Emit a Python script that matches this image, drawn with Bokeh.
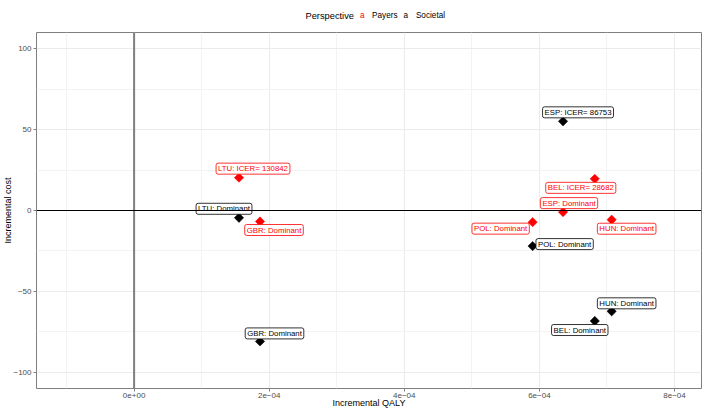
from bokeh.plotting import figure
from bokeh.layouts import column
from bokeh.models import ColumnDataSource, FixedTicker, Span, Range1d
from bokeh.embed import file_html
from bokeh.resources import INLINE
from bokeh.core.properties import value

# ---------------- data ----------------
countries = ["LTU", "GBR", "ESP", "POL", "BEL", "HUN"]
inc_qaly = [1.553e-4, 1.864e-4, 6.35e-4, 5.90e-4, 6.82e-4, 7.07e-4]
cost_payers = [20.3, -6.8, -1.0, -7.2, 19.56, -5.7]
cost_societal = [-4.5, -80.9, 55.1, -22.0, -68.3, -62.3]
icer_payers = [130842, None, None, None, 28682, None]
icer_societal = [None, None, 86753, None, None, None]

x_ticks = [0, 2e-4, 4e-4, 6e-4, 8e-4]
x_tick_labels = ["0e+00", "2e\u221204", "4e\u221204", "6e\u221204", "8e\u221204"]
x_minor = [-1e-4, 1e-4, 3e-4, 5e-4, 7e-4]
y_ticks = [-100, -50, 0, 50, 100]
y_tick_labels = ["\u2212100", "\u221250", "0", "50", "100"]
y_minor = [-75, -25, 25, 75]

legend_title = "Perspective"
legend_items = ["Payers", "Societal"]
legend_colors = ["#ff0000", "black"]

# label nudges (screen px, right / down)
nudge_payers_dx = [14, 14, 6, -32, -14, 15]
nudge_payers_dy = [-9, 8.5, -9, 6.5, 9, 9]
nudge_soc_dx = [-15, 14.5, 15, 32, -15, 15]
nudge_soc_dy = [-9, -8, -9, -2, 9, -8]

FONT = "Liberation Sans"
W = 701
LEG_H = 24


def label_text(c, icer):
    return f"{c}: Dominant" if icer is None else f"{c}: ICER= {icer}"


src_pay = ColumnDataSource(dict(
    x=inc_qaly, y=cost_payers,
    txt=[label_text(c, i) for c, i in zip(countries, icer_payers)],
    dx=nudge_payers_dx, dy=nudge_payers_dy))
src_soc = ColumnDataSource(dict(
    x=inc_qaly, y=cost_societal,
    txt=[label_text(c, i) for c, i in zip(countries, icer_societal)],
    dx=nudge_soc_dx, dy=nudge_soc_dy))

# ---------------- legend strip ----------------
leg = figure(width=W, height=LEG_H, output_backend="svg", toolbar_location=None,
             x_range=Range1d(0, W), y_range=Range1d(0, LEG_H),
             min_border=0, min_border_left=0, min_border_right=0,
             min_border_top=0, min_border_bottom=0)
leg.axis.visible = False
leg.grid.visible = False
leg.outline_line_color = None
leg.background_fill_color = "white"
leg.border_fill_color = "white"
LY = LEG_H - 15.3
leg.text(x=[286.5], y=[LY], text=[legend_title], text_font=value(FONT),
         text_font_size="9.3px", text_color="black",
         text_align="left", text_baseline="middle")
key_x = [347.0, 393.5]
lab_x = [357.5, 404.2]
leg.text(x=key_x, y=[LY, LY], text=["a", "a"], text_font=value(FONT),
         text_font_size="8.2px", text_color=legend_colors,
         text_align="center", text_baseline="middle")
leg.text(x=lab_x, y=[LY, LY], text=legend_items, text_font=value(FONT),
         text_font_size="8.2px", text_color="black",
         text_align="left", text_baseline="middle")

# ---------------- main plot ----------------
p = figure(frame_width=665, frame_height=356, output_backend="svg",
           toolbar_location=None,
           x_range=Range1d(-1.445e-4, 8.40e-4), y_range=Range1d(-110, 110),
           min_border_left=29, min_border_top=8, min_border_right=7,
           min_border_bottom=27)
p.background_fill_color = "white"
p.border_fill_color = "white"
p.outline_line_color = "#7f7f7f"
p.outline_line_width = 1

p.xaxis.ticker = FixedTicker(ticks=x_ticks, minor_ticks=x_minor)
p.yaxis.ticker = FixedTicker(ticks=y_ticks, minor_ticks=y_minor)
p.xaxis.major_label_overrides = dict(zip(x_ticks, x_tick_labels))
p.yaxis.major_label_overrides = dict(zip(y_ticks, y_tick_labels))
for ax in (p.xaxis, p.yaxis):
    ax.axis_line_color = None
    ax.major_tick_line_color = "#7f7f7f"
    ax.major_tick_in = 0
    ax.major_tick_out = 3
    ax.minor_tick_line_color = None
    ax.major_label_text_font = FONT
    ax.major_label_text_font_size = "8px"
    ax.major_label_text_color = "#4d4d4d"
    ax.axis_label_text_font = FONT
    ax.axis_label_text_font_size = "9px"
    ax.axis_label_text_font_style = "normal"
    ax.axis_label_text_color = "black"
p.xaxis.axis_label = "Incremental QALY"
p.yaxis.axis_label = "Incremental cost"
p.xaxis.major_label_standoff = 0
p.xaxis.axis_label_standoff = -3
p.yaxis.major_label_standoff = 1
p.yaxis.axis_label_standoff = -3

for g in (p.xgrid, p.ygrid):
    g.grid_line_color = "#ebebeb"
    g.grid_line_width = 1
    g.minor_grid_line_color = "#f3f3f3"
    g.minor_grid_line_width = 1
p.xgrid.ticker = p.xaxis.ticker
p.ygrid.ticker = p.yaxis.ticker

p.add_layout(Span(location=0, dimension="height", line_color="#7f7f7f", line_width=2))
p.add_layout(Span(location=0, dimension="width", line_color="black", line_width=1))

p.scatter("x", "y", source=src_soc, marker="square", angle=0.785398,
          size=6.6, fill_color="black", line_color="black", line_width=0.5)
p.scatter("x", "y", source=src_pay, marker="square", angle=0.785398,
          size=6.6, fill_color="red", line_color="red", line_width=0.5)

for src, col in ((src_soc, "black"), (src_pay, "#ff0000")):
    p.text("x", "y", text="txt", source=src, x_offset="dx", y_offset="dy",
           text_font=value(FONT), text_font_size="7.8px", text_color=col,
           text_align="center", text_baseline="middle",
           background_fill_color="white", border_line_color=col,
           border_line_width=1, border_line_alpha=0.8,
           padding=(2, 1), border_radius=2)

layout = column(leg, p, spacing=0)
open("out.html", "w").write(file_html(layout, INLINE))
